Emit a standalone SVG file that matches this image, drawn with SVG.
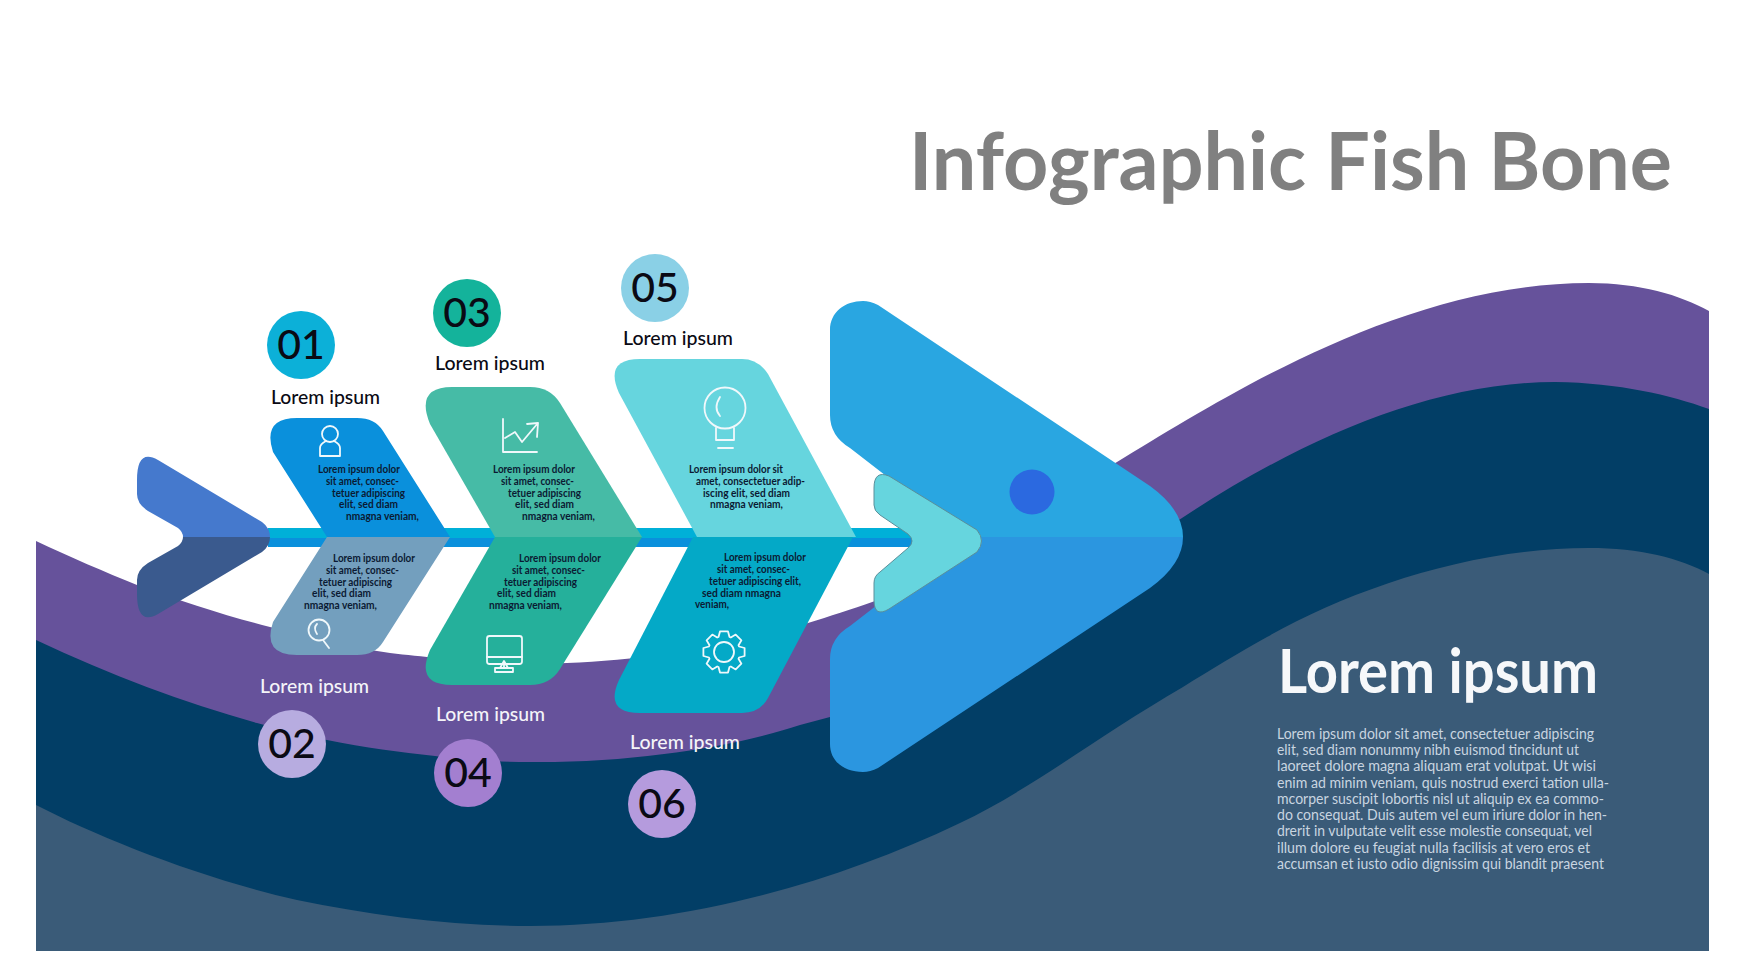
<svg xmlns="http://www.w3.org/2000/svg" width="1742" height="980" viewBox="0 0 1742 980">
<style>
text{font-family:Lato,"Liberation Sans",sans-serif}
.num{font-size:41px;font-weight:500;fill:#0a0a14;text-anchor:middle}
.lab{font-size:20px;font-weight:500}
.d{fill:#0a0a14}.w{fill:#f4f4f8}
.s{font-size:10.5px;font-weight:700;fill:#0b1a33}
.b{font-size:14.5px;fill:#c9d5e0}
.ic{fill:none;stroke:#f0f8fb;stroke-width:1.8;stroke-linejoin:round;stroke-linecap:round}
</style>
<rect width="1742" height="980" fill="#fff"/>
<g id="background">
<path fill="#66529b" d="M36 541C70 557 105 572 137 585C180 601 230 617 270 627C305 636 340 645 377 651C395 654 410 655 427 657C480 663 530 665 567 663C650 660 740 645 808 623C830 616 850 610 875 601C960 570 1050 500 1117 462C1220 400 1400 283 1589 283C1640 283 1680 295 1709 311V951H36Z"/>
<path fill="#023e66" d="M36 640C110 675 185 703 257 723C282 730 305 736 327 740C365 748 400 752 435 756C465 760 495 762 530 762C640 763 740 745 800 725C810 722 820 720 830 717C950 675 1060 595 1182 518C1300 440 1430 382 1555 382C1620 383 1670 395 1709 409V951H36Z"/>
<path fill="#3a5b78" d="M36 805C100 838 200 878 297 900C370 915 450 926 530 926C680 926 830 885 960 823C1030 790 1100 735 1183 687C1210 670 1240 652 1267 637C1350 590 1470 548 1589 548C1640 548 1680 558 1709 574V951H36Z"/>
</g>
<text x="909" y="190" font-size="81" font-weight="700" fill="#808080" textLength="763" lengthAdjust="spacingAndGlyphs">Infographic Fish Bone</text>
<g id="connectors">
<rect x="268" y="528" width="644" height="10" fill="#00b0d8"/>
<rect x="268" y="538" width="644" height="9" fill="#0a90dc"/>
</g>
<g id="tail">
<path fill="#4579cd" d="M137 480Q137 448 158 460L262 522Q270 528 270 537H183Q183 532 178 528L148 511Q137 504 137 494Z"/>
<path fill="#3a5a8e" d="M137 594Q137 626 158 614L262 552Q270 546 270 537H183Q183 542 178 546L148 563Q137 570 137 580Z"/>
</g>
<g id="head">
<path fill="#29a6e1" d="M830 330C830 312 845 301 863 301Q870 301 878 305L1150 486Q1183 510 1183 537H965L850 448Q830 436 830 415Z"/>
<path fill="#2b96e0" d="M830 744C830 762 845 772 863 772Q870 772 878 768L1150 588Q1183 564 1183 537H965L850 626Q830 638 830 659Z"/>
<circle cx="1032" cy="492" r="22.5" fill="#2b69e0"/>
<path fill="#66d5de" stroke="#5a8f9a" stroke-width="1" d="M874 488Q874 470 889 476L977 530Q986 541 977 552L889 609Q874 618 874 600V583Q874 576 880 572L908 548Q916 541 908 534L880 515Q874 511 874 505Z"/>
</g>
<g id="node-01">
<path fill="#0a90dc" d="M273 452Q262 418 297 418H357Q375 418 383 431L450 537H327Z"/>
<circle cx="301" cy="345" r="34" fill="#0cb0d8"/>
<text class="num" x="301" y="359">01</text>
<text class="lab d" x="271" y="404" textLength="109" lengthAdjust="spacingAndGlyphs">Lorem ipsum</text>
<g class="ic"><circle cx="330" cy="434" r="8"/><path d="M320 456V448Q320 444 326 441M340 456V448Q340 444 334 441M320 456H340"/></g>
<text class="s" x="318" y="473" textLength="82" lengthAdjust="spacingAndGlyphs">Lorem ipsum dolor</text>
<text class="s" x="326" y="485" textLength="73" lengthAdjust="spacingAndGlyphs">sit amet, consec-</text>
<text class="s" x="332" y="497" textLength="73" lengthAdjust="spacingAndGlyphs">tetuer adipiscing</text>
<text class="s" x="339" y="508" textLength="59" lengthAdjust="spacingAndGlyphs">elit, sed diam</text>
<text class="s" x="346" y="520" textLength="73" lengthAdjust="spacingAndGlyphs">nmagna veniam,</text>
</g>
<g id="node-02">
<path fill="#739fbe" d="M327 537H450L383 642Q375 655 357 655H297Q262 655 273 622Z"/>
<circle cx="292" cy="744" r="34" fill="#b7ace0"/>
<text class="num" x="292" y="758">02</text>
<text class="lab w" x="260" y="693" textLength="109" lengthAdjust="spacingAndGlyphs">Lorem ipsum</text>
<g class="ic"><circle cx="319" cy="630" r="10.5"/><path d="M323 640L329 648M317 624Q313 628 317 634"/></g>
<text class="s" x="333" y="562" textLength="82" lengthAdjust="spacingAndGlyphs">Lorem ipsum dolor</text>
<text class="s" x="326" y="574" textLength="73" lengthAdjust="spacingAndGlyphs">sit amet, consec-</text>
<text class="s" x="319" y="586" textLength="73" lengthAdjust="spacingAndGlyphs">tetuer adipiscing</text>
<text class="s" x="312" y="597" textLength="59" lengthAdjust="spacingAndGlyphs">elit, sed diam</text>
<text class="s" x="304" y="609" textLength="73" lengthAdjust="spacingAndGlyphs">nmagna veniam,</text>
</g>
<g id="node-03">
<path fill="#46bba6" d="M430 424Q415 387 452 387H530Q550 387 560 403L642 537H495Z"/>
<circle cx="467" cy="313" r="34" fill="#14b39b"/>
<text class="num" x="467" y="327">03</text>
<text class="lab d" x="435" y="370" textLength="110" lengthAdjust="spacingAndGlyphs">Lorem ipsum</text>
<g class="ic"><path d="M503 419V452H537M505 438L515 432L522 442L538 423M527 424L538 423L537 437"/></g>
<text class="s" x="493" y="473" textLength="82" lengthAdjust="spacingAndGlyphs">Lorem ipsum dolor</text>
<text class="s" x="501" y="485" textLength="73" lengthAdjust="spacingAndGlyphs">sit amet, consec-</text>
<text class="s" x="508" y="497" textLength="73" lengthAdjust="spacingAndGlyphs">tetuer adipiscing</text>
<text class="s" x="515" y="508" textLength="59" lengthAdjust="spacingAndGlyphs">elit, sed diam</text>
<text class="s" x="522" y="520" textLength="73" lengthAdjust="spacingAndGlyphs">nmagna veniam,</text>
</g>
<g id="node-04">
<path fill="#25b09b" d="M495 537H642L560 669Q550 685 530 685H452Q415 685 430 650Z"/>
<circle cx="468" cy="773" r="34" fill="#a37fd0"/>
<text class="num" x="468" y="787">04</text>
<text class="lab w" x="436" y="721" textLength="109" lengthAdjust="spacingAndGlyphs">Lorem ipsum</text>
<g class="ic"><rect x="487" y="636" width="35" height="28" rx="2.5"/><path d="M487 657H522M504 664V668M500 668L504 661L508 668"/><rect x="495" y="668" width="18" height="4"/></g>
<text class="s" x="519" y="562" textLength="82" lengthAdjust="spacingAndGlyphs">Lorem ipsum dolor</text>
<text class="s" x="512" y="574" textLength="73" lengthAdjust="spacingAndGlyphs">sit amet, consec-</text>
<text class="s" x="504" y="586" textLength="73" lengthAdjust="spacingAndGlyphs">tetuer adipiscing</text>
<text class="s" x="497" y="597" textLength="59" lengthAdjust="spacingAndGlyphs">elit, sed diam</text>
<text class="s" x="489" y="609" textLength="73" lengthAdjust="spacingAndGlyphs">nmagna veniam,</text>
</g>
<g id="node-05">
<path fill="#66d5de" d="M619 393Q604 359 640 359H742Q758 359 768 374L856 537H697Z"/>
<circle cx="655" cy="288" r="34" fill="#8ad0e6"/>
<text class="num" x="655" y="302">05</text>
<text class="lab d" x="623" y="345" textLength="110" lengthAdjust="spacingAndGlyphs">Lorem ipsum</text>
<g class="ic"><circle cx="725" cy="408" r="20.5"/><path d="M716 428V440H734V428M718 448H733M720 397Q713 408 720 416"/></g>
<text class="s" x="689" y="473" textLength="94" lengthAdjust="spacingAndGlyphs">Lorem ipsum dolor sit</text>
<text class="s" x="696" y="485" textLength="109" lengthAdjust="spacingAndGlyphs">amet, consectetuer adip-</text>
<text class="s" x="703" y="497" textLength="87" lengthAdjust="spacingAndGlyphs">iscing elit, sed diam</text>
<text class="s" x="710" y="508" textLength="73" lengthAdjust="spacingAndGlyphs">nmagna veniam,</text>
</g>
<g id="node-06">
<path fill="#04a9c7" d="M693 537H853L768 698Q760 713 742 713H640Q604 713 619 680Z"/>
<circle cx="662" cy="804" r="34" fill="#b59bdd"/>
<text class="num" x="662" y="818">06</text>
<text class="lab w" x="630" y="749" textLength="110" lengthAdjust="spacingAndGlyphs">Lorem ipsum</text>
<g class="ic" transform="translate(724 652)"><circle r="10"/><path d="M15 -5.5L20.6 -4V4L15 5.5L14.5 6.8L17.4 11.7L11.7 17.4L6.8 14.5L5.5 15L4 20.6H-4L-5.5 15L-6.8 14.5L-11.7 17.4L-17.4 11.7L-14.5 6.8L-15 5.5L-20.6 4V-4L-15 -5.5L-14.5 -6.8L-17.4 -11.7L-11.7 -17.4L-6.8 -14.5L-5.5 -15L-4 -20.6H4L5.5 -15L6.8 -14.5L11.7 -17.4L17.4 -11.7L14.5 -6.8Z"/></g>
<text class="s" x="724" y="561" textLength="82" lengthAdjust="spacingAndGlyphs">Lorem ipsum dolor</text>
<text class="s" x="717" y="573" textLength="73" lengthAdjust="spacingAndGlyphs">sit amet, consec-</text>
<text class="s" x="709" y="585" textLength="92" lengthAdjust="spacingAndGlyphs">tetuer adipiscing elit,</text>
<text class="s" x="702" y="597" textLength="79" lengthAdjust="spacingAndGlyphs">sed diam nmagna</text>
<text class="s" x="695" y="608" textLength="34" lengthAdjust="spacingAndGlyphs">veniam,</text>
</g>
<g id="summary">
<text x="1278" y="693" font-size="62" font-weight="700" fill="#f6f8fa" textLength="320" lengthAdjust="spacingAndGlyphs">Lorem ipsum</text>
<text class="b" x="1277" y="739" textLength="317" lengthAdjust="spacingAndGlyphs">Lorem ipsum dolor sit amet, consectetuer adipiscing</text>
<text class="b" x="1277" y="755" textLength="302" lengthAdjust="spacingAndGlyphs">elit, sed diam nonummy nibh euismod tincidunt ut</text>
<text class="b" x="1277" y="771" textLength="319" lengthAdjust="spacingAndGlyphs">laoreet dolore magna aliquam erat volutpat. Ut wisi</text>
<text class="b" x="1277" y="788" textLength="332" lengthAdjust="spacingAndGlyphs">enim ad minim veniam, quis nostrud exerci tation ulla-</text>
<text class="b" x="1277" y="804" textLength="327" lengthAdjust="spacingAndGlyphs">mcorper suscipit lobortis nisl ut aliquip ex ea commo-</text>
<text class="b" x="1277" y="820" textLength="330" lengthAdjust="spacingAndGlyphs">do consequat. Duis autem vel eum iriure dolor in hen-</text>
<text class="b" x="1277" y="836" textLength="315" lengthAdjust="spacingAndGlyphs">drerit in vulputate velit esse molestie consequat, vel</text>
<text class="b" x="1277" y="853" textLength="313" lengthAdjust="spacingAndGlyphs">illum dolore eu feugiat nulla facilisis at vero eros et</text>
<text class="b" x="1277" y="869" textLength="327" lengthAdjust="spacingAndGlyphs">accumsan et iusto odio dignissim qui blandit praesent</text>
</g>
</svg>
